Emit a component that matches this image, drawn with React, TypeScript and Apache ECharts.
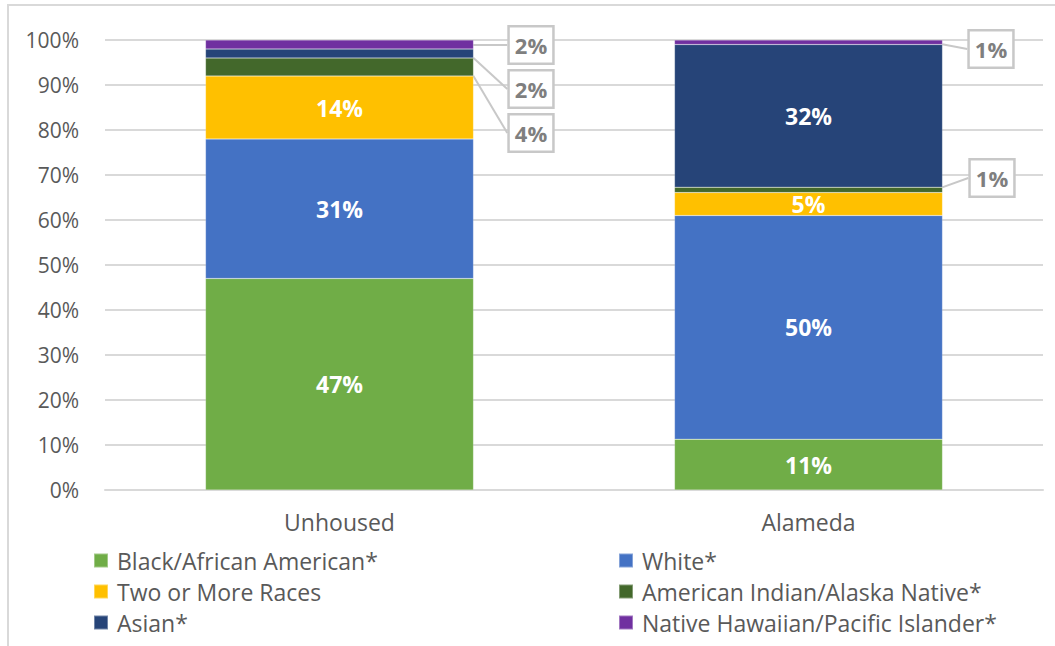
import React, { useEffect, useRef } from "react";
import * as echarts from "echarts";

const categories = ["Unhoused", "Alameda"];
const seriesNames = [
  "Black/African American*",
  "White*",
  "Two or More Races",
  "American Indian/Alaska Native*",
  "Asian*",
  "Native Hawaiian/Pacific Islander*",
];
const black = [47, 11.3];
const white = [31, 49.7];
const twoOrMore = [14, 5.1];
const aian = [4, 1.2];
const asian = [2, 31.7];
const nhpi = [2, 1.0];
const colors = ["#70AD47", "#4472C4", "#FFC000", "#43682B", "#264478", "#7030A0"];
const yTicks = [0, 10, 20, 30, 40, 50, 60, 70, 80, 90, 100];

// callout label box centers (layout only) keyed by series-dataIndex
const callouts: Record<string, [number, number]> = {
  "5-0": [531, 45],
  "4-0": [531, 89],
  "3-0": [531, 133],
  "5-1": [991, 49],
  "3-1": [992, 178],
};

const FONT = "Open Sans";

export default function App() {
  const ref = useRef<HTMLDivElement>(null);
  useEffect(() => {
    document.body.style.margin = "0";
    const chart = echarts.init(ref.current!, undefined, { renderer: "svg" });
    const values = [black, white, twoOrMore, aian, asian, nhpi];
    const series = values.map((vals, si) => ({
      name: seriesNames[si],
      type: "bar",
      stack: "total",
      barWidth: 268,
      itemStyle: { color: colors[si], borderColor: "rgba(255,255,255,0.35)", borderWidth: 0.5 },
      data: vals.map((v, di) => {
        const key = `${si}-${di}`;
        const isCallout = key in callouts;
        return {
          value: v,
          label: isCallout
            ? {
                show: true,
                position: "inside",
                formatter: (p: any) => `${Math.round(p.value)}%`,
                color: "#7F7F7F",
                fontFamily: FONT,
                fontWeight: "bold",
                fontSize: 22,
                backgroundColor: "#FFFFFF",
                borderColor: "#C8C8C8",
                borderWidth: 2.5,
                padding: [7, 5, 6, 5],
              }
            : {
                show: true,
                position: "inside",
                formatter: (p: any) => `${Math.round(p.value)}%`,
                color: "#FFFFFF",
                fontFamily: FONT,
                fontWeight: "bold",
                fontSize: 23,
              },
          labelLine: isCallout
            ? { show: true, lineStyle: { color: "#C8C8C8", width: 2 } }
            : { show: false },
        };
      }),
      labelLayout: (params: any) => {
        const key = `${si}-${params.dataIndex}`;
        const c = callouts[key];
        if (!c) return {};
        return { x: c[0], y: c[1], align: "center", verticalAlign: "middle" };
      },
    }));

    const legendText = { color: "#595959", fontFamily: FONT, fontSize: 23, lineHeight: 31 };
    chart.setOption({
      animation: false,
      backgroundColor: "#FFFFFF",
      color: colors,
      grid: { left: 105, right: 12, top: 40, bottom: 156, containLabel: false },
      xAxis: {
        type: "category",
        data: categories,
        axisLine: { lineStyle: { color: "#D9D9D9", width: 2 } },
        axisTick: { show: false },
        axisLabel: { color: "#595959", fontFamily: FONT, fontSize: 23, margin: 20 },
      },
      yAxis: {
        type: "value",
        min: 0,
        max: 100,
        interval: 10,
        axisLine: { show: false },
        axisTick: { show: false },
        splitLine: { lineStyle: { color: "#D9D9D9", width: 2 } },
        axisLabel: {
          color: "#595959",
          fontFamily: FONT,
          fontSize: 21,
          margin: 26,
          formatter: (v: number) => (yTicks.includes(v) ? `${v}%` : ""),
        },
      },
      legend: [
        {
          orient: "vertical",
          left: 93,
          top: 545,
          padding: 0,
          height: 100,
          itemWidth: 14,
          itemHeight: 14,
          itemGap: 0,
          icon: "rect",
          data: [seriesNames[0], seriesNames[2], seriesNames[4]],
          textStyle: { ...legendText, padding: [0, 0, 0, 4] },
        },
        {
          orient: "vertical",
          left: 618,
          top: 545,
          padding: 0,
          height: 100,
          itemWidth: 14,
          itemHeight: 14,
          itemGap: 0,
          icon: "rect",
          data: [seriesNames[1], seriesNames[3], seriesNames[5]],
          textStyle: { ...legendText, padding: [0, 0, 0, 4] },
        },
      ],
      graphic: [
        {
          type: "polyline",
          shape: { points: [[8, 660], [8, 5], [1070, 5]] },
          style: { stroke: "#D9D9D9", lineWidth: 2, fill: "none" },
          silent: true,
        },
      ],
      series,
    });
    return () => chart.dispose();
  }, []);
  return <div ref={ref} style={{ position: "fixed", left: 0, top: 0, width: 1055, height: 646 }} />;
}
